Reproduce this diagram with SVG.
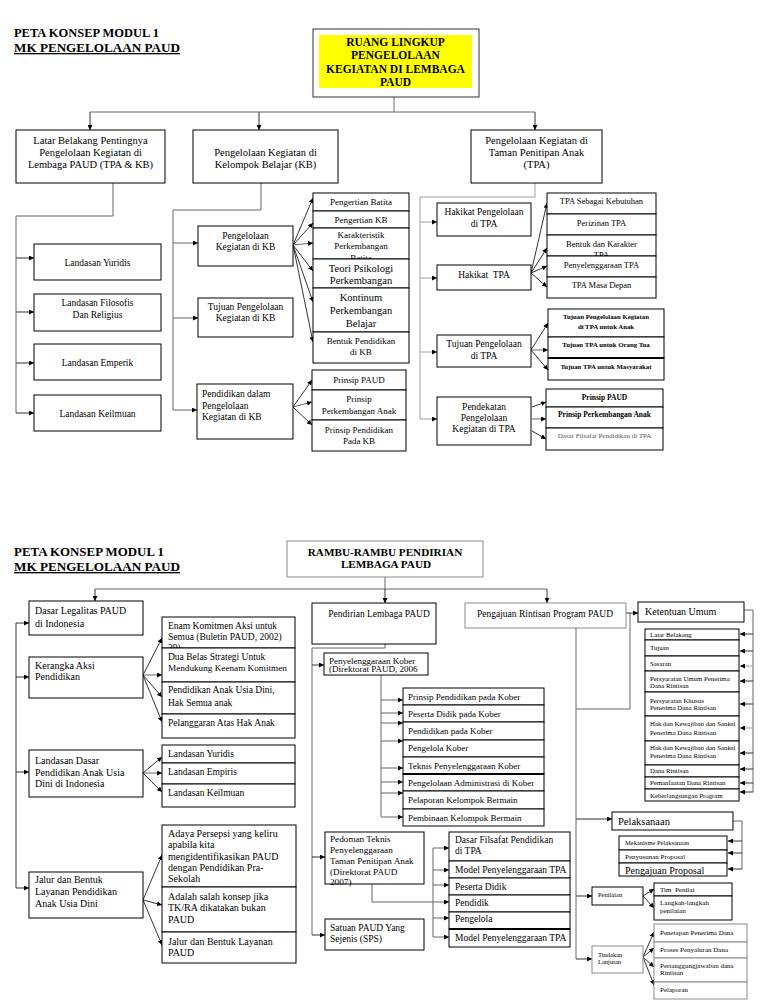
<svg xmlns="http://www.w3.org/2000/svg" width="768" height="1002" viewBox="0 0 768 1002">
<defs>
<marker id="ah" markerWidth="5" markerHeight="5" refX="5" refY="2.5" orient="auto" markerUnits="userSpaceOnUse"><path d="M0,0 L5,2.5 L0,5 z" fill="#000"/></marker>
</defs>
<style>
text{font-family:"Liberation Serif","Times New Roman",serif;fill:#000}
.b{fill:#fff;stroke:#000;stroke-width:1}
.bg{fill:#fff;stroke:#8a8a8a;stroke-width:1}
.c{text-anchor:middle}
.h{font-weight:bold}
.ln{fill:none;stroke:#333;stroke-width:1}
.lm{fill:none;stroke:#666;stroke-width:1}
.lg{fill:none;stroke:#a0a0a0;stroke-width:1}
.a{marker-end:url(#ah)}
.dbl{stroke:#000;stroke-width:2}
</style>
<rect width="768" height="1002" fill="#fff"/>

<!-- ============ CONNECTORS ============ -->
<g id="connectors">
<!-- top -->
<path class="lm" d="M394,97V112M90,112H535"/>
<path class="ln a" d="M90,112V130"/>
<path class="ln a" d="M259,112V130"/>
<path class="ln a" d="M535,112V130"/>
<path class="lm" d="M113,183V216H16V413"/>
<path class="ln a" d="M16,258H34"/>
<path class="ln a" d="M16,312H34"/>
<path class="ln a" d="M16,363H34"/>
<path class="ln a" d="M16,413H34"/>
<path class="lm" d="M261,183V210H173V410"/>
<path class="lm a" d="M173,243H198"/>
<path class="lm a" d="M173,318H198"/>
<path class="lm a" d="M173,410H197"/>
<path class="ln a" d="M293,245L313,198"/>
<path class="ln a" d="M293,245L313,223"/>
<path class="lm a" d="M293,245L313,243"/>
<path class="ln a" d="M293,245L313,271"/>
<path class="ln a" d="M293,245L313,302"/>
<path class="ln a" d="M293,245L313,342"/>
<path class="ln a" d="M293,407L312,380"/>
<path class="lm a" d="M293,407L312,402"/>
<path class="ln a" d="M293,407L312,425"/>
<path class="lg" d="M535,183V197H420V419"/>
<path class="lg a" d="M420,222H437"/>
<path class="lg a" d="M420,278H437"/>
<path class="lg a" d="M420,352H437"/>
<path class="lg a" d="M420,419H437"/>
<path class="ln a" d="M531,273L547,203"/>
<path class="ln a" d="M531,273L547,248"/>
<path class="ln a" d="M531,273L547,266"/>
<path class="ln a" d="M531,273L547,287"/>
<path class="ln a" d="M531,350L548,323"/>
<path class="lm a" d="M531,350L548,350"/>
<path class="ln a" d="M531,350L548,370"/>
<path class="ln a" d="M532,407L546,402"/>
<path class="lm a" d="M532,419H546"/>
<path class="ln a" d="M532,431L546,439"/>

<!-- bottom -->
<path class="lm" d="M385,577V589M95,589H547"/>
<path class="ln a" d="M95,589V601"/>
<path class="ln a" d="M385,589V603"/>
<path class="ln a" d="M547,589V603"/>
<path class="ln" d="M16,623V888"/>
<path class="ln a" d="M16,623H29"/>
<path class="ln a" d="M16,677H29"/>
<path class="ln a" d="M16,772H29"/>
<path class="ln a" d="M16,888H29"/>
<path class="ln a" d="M143,675L162,638"/>
<path class="lm a" d="M143,675L162,675"/>
<path class="ln a" d="M143,675L162,697"/>
<path class="ln a" d="M143,675L162,722"/>
<path class="ln a" d="M143,773L162,757"/>
<path class="lm a" d="M143,773L162,773"/>
<path class="ln a" d="M143,773L162,792"/>
<path class="ln a" d="M143,900L162,855"/>
<path class="ln a" d="M143,900L162,905"/>
<path class="ln a" d="M143,900L162,945"/>

<path class="lm" d="M385,644V648H312V935"/>
<path class="ln a" d="M312,665H324"/>
<path class="ln a" d="M312,857H325"/>
<path class="ln a" d="M312,935H325"/>
<path class="lm" d="M381,675V817"/>
<path class="lm a" d="M381,700H403"/>
<path class="lm a" d="M381,713H403"/>
<path class="lm a" d="M381,723H403"/>
<path class="lm a" d="M381,741H403"/>
<path class="lm a" d="M381,768H403"/>
<path class="lm a" d="M381,782H403"/>
<path class="lm a" d="M381,793H403"/>
<path class="lm a" d="M381,817H403"/>
<path class="lm a" d="M372,884V902H449"/>
<path class="lm" d="M433,848V937"/>
<path class="lm a" d="M433,848H449"/>
<path class="lm a" d="M433,870H449"/>
<path class="lm a" d="M433,885H449"/>
<path class="lm a" d="M433,918H449"/>
<path class="lm a" d="M433,937H449"/>

<path class="lm" d="M576,628V959"/>
<path class="lm" d="M630,613V709H576"/>
<path class="ln a" d="M626,613H638"/>
<path class="ln a" d="M576,819H612"/>
<path class="ln a" d="M576,896H592"/>
<path class="ln a" d="M576,959H592"/>
<path class="lm" d="M744,610H753V792"/>
<path class="ln a" d="M753,634H740"/>
<path class="ln a" d="M753,651H740"/>
<path class="lg a" d="M753,666H740"/>
<path class="ln a" d="M753,681H740"/>
<path class="ln a" d="M753,704H740"/>
<path class="lg a" d="M753,728H740"/>
<path class="ln a" d="M753,753H740"/>
<path class="ln a" d="M753,769H740"/>
<path class="ln a" d="M753,783H740"/>
<path class="ln a" d="M753,792H740"/>
<path class="lm" d="M733,821H742V869"/>
<path class="ln a" d="M742,841H728"/>
<path class="ln a" d="M742,853H728"/>
<path class="ln a" d="M742,869H728"/>
<path class="ln a" d="M643,896L654,889"/>
<path class="ln a" d="M643,896L654,908"/>
<path class="ln a" d="M643,957L654,932"/>
<path class="ln a" d="M643,957L654,948"/>
<path class="ln a" d="M643,957L654,967"/>
<path class="ln a" d="M643,957L654,985"/>
</g>

<!-- ============ TOP SECTION ============ -->
<g id="title-top" class="h">
<text x="14" y="37" font-size="13" textLength="145" lengthAdjust="spacingAndGlyphs">PETA KONSEP MODUL 1</text>
<text x="14" y="52" font-size="13" textLength="166" lengthAdjust="spacingAndGlyphs" text-decoration="underline">MK PENGELOLAAN PAUD</text>
</g>

<g id="ruang">
<rect x="313" y="29" width="166" height="68" fill="#fff" stroke="#333"/>
<rect x="319" y="35" width="153" height="53" fill="#ffff00"/>
<g class="c h" font-size="11.5">
<text x="395.5" y="46">RUANG LINGKUP</text>
<text x="395.5" y="59">PENGELOLAAN</text>
<text x="395.5" y="72.5">KEGIATAN DI LEMBAGA</text>
<text x="395.5" y="86">PAUD</text>
</g>
</g>

<g id="latar" font-size="10.5" class="c">
<rect x="16" y="130" width="149" height="53" class="b"/>
<text x="90.5" y="144">Latar Belakang Pentingnya</text>
<text x="90.5" y="156">Pengelolaan Kegiatan di</text>
<text x="90.5" y="167.5">Lembaga PAUD (TPA &amp; KB)</text>
</g>
<g id="kb" font-size="10.5" class="c">
<rect x="193" y="130" width="145" height="53" class="b"/>
<text x="265.5" y="156">Pengelolaan Kegiatan di</text>
<text x="265.5" y="167.5">Kelompok Belajar (KB)</text>
</g>
<g id="tpa" font-size="10.5" class="c">
<rect x="471" y="130" width="131" height="53" class="b"/>
<text x="536.5" y="144">Pengelolaan Kegiatan di</text>
<text x="536.5" y="156">Taman Penitipan Anak</text>
<text x="536.5" y="168">(TPA)</text>
</g>

<g id="landasan-yuridis" font-size="9.5" class="c"><rect x="34" y="244" width="127" height="36" class="b"/><text x="97.5" y="265.5">Landasan Yuridis</text></g>
<g id="landasan-filosofis" font-size="9.5" class="c"><rect x="34" y="294" width="127" height="37" class="b"/><text x="97.5" y="306">Landasan Filosofis</text><text x="97.5" y="317.5">Dan Religius</text></g>
<g id="landasan-emperik" font-size="9.5" class="c"><rect x="34" y="344" width="127" height="36" class="b"/><text x="97.5" y="365.5">Landasan Emperik</text></g>
<g id="landasan-keilmuan" font-size="9.5" class="c"><rect x="34" y="395" width="127" height="36" class="b"/><text x="97.5" y="416.5">Landasan Keilmuan</text></g>

<g id="pengelolaan-kb" font-size="9.5" class="c"><rect x="198" y="226" width="95" height="40" class="b"/><text x="245.5" y="238.5">Pengelolaan</text><text x="245.5" y="250">Kegiatan di KB</text></g>
<g id="tujuan-kb" font-size="9.5" class="c"><rect x="198" y="298" width="95" height="39" class="b"/><text x="245.5" y="310">Tujuan Pengelolaan</text><text x="245.5" y="320.5">Kegiatan di KB</text></g>
<g id="pendidikan-kb" font-size="9.5"><rect x="197" y="384" width="96" height="55" class="b"/><text x="202" y="396.5">Pendidikan dalam</text><text x="202" y="408.5">Pengelolaan</text><text x="202" y="420">Kegiatan di KB</text></g>

<g id="kb-stack" font-size="9" class="c">
<rect x="313" y="193" width="96" height="18" class="b"/><text x="361" y="205">Pengertian Batita</text>
<rect x="313" y="211" width="96" height="17" class="b"/><text x="361" y="222.5">Pengertian KB</text>
<rect x="313" y="228" width="96" height="31" class="b"/><text x="361" y="238">Karakteristik</text><text x="361" y="249">Perkembangan</text><text x="361" y="261">Batita</text>
<rect x="313" y="259" width="96" height="29" class="b"/><text x="361" y="272" font-size="10.5">Teori Psikologi</text><text x="361" y="284" font-size="10.5">Perkembangan</text>
<rect x="313" y="288" width="96" height="44" class="b"/><text x="361" y="301" font-size="10.5">Kontinum</text><text x="361" y="314" font-size="10.5">Perkembangan</text><text x="361" y="326.5" font-size="10.5">Belajar</text>
<rect x="313" y="332" width="96" height="31" class="b"/><text x="361" y="344">Bentuk Pendidikan</text><text x="361" y="355">di KB</text>
</g>

<g id="prinsip-stack" font-size="9" class="c">
<rect x="312" y="370" width="94" height="20" class="b"/><text x="359" y="382.5">Prinsip PAUD</text>
<rect x="312" y="390" width="94" height="30" class="b"/><text x="359" y="401.5">Prinsip</text><text x="359" y="413.5">Perkembangan Anak</text>
<rect x="312" y="420" width="94" height="31" class="b"/><text x="359" y="432.5">Prinsip Pendidikan</text><text x="359" y="444">Pada KB</text>
</g>

<g id="hakikat-pengelolaan-tpa" font-size="9.5" class="c"><rect x="437" y="203" width="94" height="33" class="b"/><text x="484" y="215">Hakikat Pengelolaan</text><text x="484" y="226.5">di TPA</text></g>
<g id="hakikat-tpa" font-size="9.5" class="c"><rect x="437" y="265" width="94" height="25" class="b"/><text x="484" y="277.5" xml:space="preserve">Hakikat  TPA</text></g>
<g id="tujuan-tpa" font-size="9.5" class="c"><rect x="437" y="335" width="94" height="32" class="b"/><text x="484" y="347">Tujuan Pengelolaan</text><text x="484" y="359">di TPA</text></g>
<g id="pendekatan-tpa" font-size="9.5" class="c"><rect x="437" y="397" width="94" height="48" class="b"/><text x="484" y="409.5">Pendekatan</text><text x="484" y="420.5">Pengelolaan</text><text x="484" y="431.5">Kegiatan di TPA</text></g>

<g id="hakikat-stack" font-size="8.5" class="c">
<rect x="547" y="193" width="109" height="21" class="b"/><text x="601.5" y="204">TPA Sebagai Kebutuhan</text>
<rect x="547" y="214" width="109" height="21" class="b"/><text x="601.5" y="226">Perizinan TPA</text>
<rect x="547" y="235" width="109" height="21" class="b"/><text x="601.5" y="246.5">Bentuk dan Karakter</text><text x="601.5" y="258">TPA</text>
<rect x="547" y="256" width="109" height="21" class="b"/><text x="601.5" y="267.5">Penyelenggaraan TPA</text>
<rect x="547" y="277" width="109" height="21" class="b"/><text x="601.5" y="287.5">TPA Masa Depan</text>
</g>

<g id="tujuan-stack" font-size="6.8" class="c h">
<rect x="548" y="309" width="116" height="28" class="b"/><text x="606" y="319">Tujuan Pengelolaan Kegiatan</text><text x="606" y="328.5">di TPA untuk Anak</text>
<rect x="548" y="337" width="116" height="21" class="b"/><text x="606" y="346.5">Tujuan TPA untuk Orang Tua</text>
<rect x="548" y="358" width="116" height="22" class="b"/><line x1="548" y1="358" x2="664" y2="358" class="dbl"/><text x="606" y="368.5">Tujuan TPA untuk Masyarakat</text>
</g>

<g id="pendekatan-stack" class="c">
<rect x="546" y="389" width="117" height="18" class="b"/><text x="604.5" y="399.5" font-size="7.5" class="h">Prinsip PAUD</text>
<rect x="546" y="407" width="117" height="21" class="b"/><text x="604.5" y="417" font-size="7.5" class="h">Prinsip Perkembangan Anak</text>
<rect x="546" y="428" width="117" height="22" class="b"/><text x="604.5" y="438" font-size="7" style="fill:#555">Dasar Filsafat Pendidikan di TPA</text>
</g>

<!-- ============ BOTTOM SECTION ============ -->
<g id="title-bottom" class="h">
<text x="14" y="556" font-size="13.5" textLength="150" lengthAdjust="spacingAndGlyphs">PETA KONSEP MODUL 1</text>
<text x="14" y="571" font-size="13.5" textLength="166" lengthAdjust="spacingAndGlyphs" text-decoration="underline">MK PENGELOLAAN PAUD</text>
</g>

<g id="rambu" class="c h" font-size="11.2">
<rect x="287" y="541" width="196" height="36" class="bg"/>
<text x="385" y="556">RAMBU-RAMBU PENDIRIAN</text>
<text x="386" y="568">LEMBAGA PAUD</text>
</g>

<g id="dasar-legalitas" font-size="10"><rect x="29" y="601" width="114" height="34" class="b"/><text x="35" y="614">Dasar Legalitas PAUD</text><text x="35" y="627">di Indonesia</text></g>
<g id="kerangka-aksi" font-size="10"><rect x="29" y="657" width="114" height="41" class="b"/><text x="35" y="669">Kerangka Aksi</text><text x="35" y="680">Pendidikan</text></g>
<g id="landasan-dasar" font-size="10"><rect x="29" y="750" width="114" height="47" class="b"/><text x="35" y="764">Landasan Dasar</text><text x="35" y="776">Pendidikan Anak Usia</text><text x="35" y="787">Dini di Indonesia</text></g>
<g id="jalur-bentuk" font-size="10"><rect x="29" y="872" width="114" height="46" class="b"/><text x="35" y="882.5">Jalur dan Bentuk</text><text x="35" y="895">Layanan Pendidikan</text><text x="35" y="906.5">Anak Usia Dini</text></g>

<g id="kerangka-stack" font-size="9.5">
<rect x="162" y="617" width="133" height="31" class="b"/><text x="168" y="629">Enam Komitmen Aksi untuk</text><text x="168" y="640">Semua (Buletin PAUD, 2002)</text><text x="168" y="651">39)</text>
<rect x="162" y="648" width="133" height="34" class="b"/><text x="168" y="659.5">Dua Belas Strategi Untuk</text><text x="168" y="670.5" font-size="9.2">Mendukung Keenam Komitmen</text>
<rect x="162" y="682" width="133" height="32" class="b"/><text x="168" y="692.5">Pendidikan Anak Usia Dini,</text><text x="168" y="706">Hak Semua anak</text>
<rect x="162" y="714" width="133" height="24" class="b"/><text x="168" y="726">Pelanggaran Atas Hak Anak</text>
</g>

<g id="landasan-stack" font-size="9.5">
<rect x="162" y="745" width="133" height="18" class="b"/><text x="168" y="756.5">Landasan Yuridis</text>
<rect x="162" y="763" width="133" height="21" class="b"/><text x="168" y="775">Landasan Empiris</text>
<rect x="162" y="784" width="133" height="23" class="b"/><text x="168" y="796">Landasan Keilmuan</text>
</g>

<g id="jalur-stack" font-size="10">
<rect x="162" y="825" width="134" height="62" class="b"/>
<text x="168" y="836.5">Adaya Persepsi yang keliru</text><text x="168" y="848">apabila kita</text><text x="168" y="859.5">mengidentifikasikan PAUD</text><text x="168" y="871">dengan Pendidikan Pra-</text><text x="168" y="882">Sekolah</text>
<rect x="162" y="887" width="134" height="45" class="b"/>
<text x="168" y="899.5">Adalah salah konsep jika</text><text x="168" y="911">TK/RA dikatakan bukan</text><text x="168" y="922.5">PAUD</text>
<rect x="162" y="932" width="134" height="31" class="b"/>
<text x="168" y="944.5">Jalur dan Bentuk Layanan</text><text x="168" y="956">PAUD</text>
</g>

<g id="pendirian" font-size="9.5" class="c"><rect x="312" y="603" width="124" height="41" class="b"/><text x="379" y="617">Pendirian Lembaga PAUD</text></g>
<g id="pengajuan" font-size="9.5" class="c"><rect x="465" y="603" width="161" height="25" class="bg"/><text x="545" y="617">Pengajuan Rintisan Program PAUD</text></g>

<g id="penyelenggaraan-kober" font-size="9"><rect x="324" y="653" width="104" height="22" class="b"/><text x="329" y="663.5">Penyelenggaraan Kober</text><text x="329" y="672">(Direktorat PAUD, 2006</text></g>

<g id="kober-stack" font-size="9">
<rect x="403" y="688" width="141" height="17" class="b"/><text x="408" y="699.5">Prinsip Pendidikan pada Kober</text>
<rect x="403" y="705" width="141" height="17" class="b"/><text x="408" y="716.5">Peserta Didik pada Kober</text>
<rect x="403" y="722" width="141" height="18" class="b"/><text x="408" y="734">Pendidikan pada Kober</text>
<rect x="403" y="740" width="141" height="17" class="b"/><text x="408" y="751">Pengelola Kober</text>
<rect x="403" y="757" width="141" height="17" class="b"/><text x="408" y="768.5">Teknis Penyelenggaraan Kober</text>
<rect x="403" y="774" width="141" height="17" class="b"/><line x1="403" y1="774" x2="544" y2="774" class="dbl"/><text x="408" y="785.5">Pengelolaan Administrasi di Kober</text>
<rect x="403" y="791" width="141" height="18" class="b"/><text x="408" y="803">Pelaporan Kelompok Bermain</text>
<rect x="403" y="809" width="141" height="17" class="b"/><text x="408" y="820.5">Pembinaan Kelompok Bermain</text>
</g>

<g id="pedoman-tpa" font-size="9.2"><rect x="325" y="832" width="99" height="52" class="b"/><text x="330" y="842">Pedoman Teknis</text><text x="330" y="853">Penyelenggaraan</text><text x="330" y="864">Taman Penitipan Anak</text><text x="330" y="874.5">(Direktorat PAUD</text><text x="330" y="885">2007)</text></g>
<g id="satuan-paud" font-size="9.5"><rect x="325" y="919" width="99" height="31" class="b"/><text x="330" y="930.5">Satuan PAUD Yang</text><text x="330" y="942">Sejenis (SPS)</text></g>

<g id="tpa-stack" font-size="9.5">
<rect x="449" y="832" width="121" height="29" class="b"/><text x="455" y="842.5">Dasar Filsafat Pendidikan</text><text x="455" y="853.5">di TPA</text>
<rect x="449" y="861" width="121" height="17" class="b"/><text x="455" y="873">Model Penyelenggaraan TPA</text>
<rect x="449" y="878" width="121" height="17" class="b"/><text x="455" y="889.5">Peserta Didik</text>
<rect x="449" y="895" width="121" height="17" class="b"/><text x="455" y="906">Pendidik</text>
<rect x="449" y="912" width="121" height="17" class="b"/><text x="455" y="921.5">Pengelola</text>
<rect x="449" y="929" width="121" height="18" class="b"/><line x1="449" y1="929" x2="570" y2="929" class="dbl"/><text x="455" y="940.5">Model Penyelenggaraan TPA</text>
</g>

<g id="ketentuan-umum" font-size="10"><rect x="638" y="602" width="106" height="20" class="b"/><text x="645" y="614.5">Ketentuan Umum</text></g>

<g id="ketentuan-stack" font-size="6.8">
<rect x="645" y="629" width="94" height="11" class="b"/><text x="650" y="636.5">Latar Belakang</text>
<rect x="645" y="640" width="94" height="16" class="b"/><text x="650" y="650">Tujuan</text>
<rect x="645" y="656" width="94" height="15" class="b"/><text x="650" y="666">Sasaran</text>
<rect x="645" y="671" width="94" height="21" class="b"/><text x="650" y="680.5">Persyaratan Umum Penerima</text><text x="650" y="688">Dana Rintisan</text>
<rect x="645" y="692" width="94" height="24" class="b"/><text x="650" y="702.5">Persyaratan Khusus</text><text x="650" y="710">Penerima Dana Rintisan</text>
<rect x="645" y="716" width="94" height="25" class="b"/><text x="650" y="726">Hak dan Kewajiban dan Sanksi</text><text x="650" y="734.5">Penerima Dana Rintisan</text>
<rect x="645" y="741" width="94" height="24" class="b"/><text x="650" y="749.5">Hak dan Kewajiban dan Sanksi</text><text x="650" y="757.5">Penerima Dana Rintisan</text>
<rect x="645" y="765" width="94" height="12" class="b"/><text x="650" y="772.5">Dana Rintisan</text>
<rect x="645" y="777" width="94" height="12" class="b"/><text x="650" y="785">Pemanfaatan Dana Rintisan</text>
<rect x="645" y="789" width="94" height="12" class="b"/><text x="650" y="797.5">Keberlangsungan Program</text>
</g>

<g id="pelaksanaan" font-size="10.5"><rect x="612" y="812" width="121" height="18" class="b"/><text x="618" y="825">Pelaksanaan</text></g>
<g id="pelaksanaan-stack">
<rect x="619" y="836" width="108" height="14" class="b"/><text x="625" y="845" font-size="6.5">Mekanisme Pelaksanaan</text>
<rect x="619" y="850" width="108" height="13" class="b"/><text x="625" y="859" font-size="7">Penyusunan Proposal</text>
<rect x="619" y="863" width="108" height="13" class="b"/><text x="625" y="874" font-size="10">Pengajuan Proposal</text>
</g>

<g id="penilaian" font-size="6.5"><rect x="592" y="887" width="51" height="18" class="b"/><text x="598" y="896.5">Penilaian</text></g>
<g id="penilaian-stack" font-size="7">
<rect x="654" y="883" width="78" height="13" class="b"/><text x="660" y="892" xml:space="preserve">Tim  Penilai</text>
<rect x="654" y="896" width="78" height="24" class="b"/><text x="660" y="905">Langkah-langkah</text><text x="660" y="912.5">penilaian</text>
</g>

<g id="tindakan-lanjutan" font-size="6.5"><rect x="592" y="946" width="51" height="27" class="bg"/><text x="598" y="956.5">Tindakan</text><text x="598" y="964">Lanjutan</text></g>
<g id="tindakan-stack" font-size="7">
<rect x="654" y="924" width="93" height="18" class="bg"/><text x="660" y="935">Penetapan Penerima Dana</text>
<rect x="654" y="942" width="93" height="16" class="bg"/><text x="660" y="952">Proses Penyaluran Dana</text>
<rect x="654" y="958" width="93" height="24" class="bg"/><text x="660" y="967.5">Pertanggungjawaban dana</text><text x="660" y="975">Rintisan</text>
<rect x="654" y="982" width="93" height="17" class="bg"/><text x="660" y="992">Pelaporan</text>
</g>
</svg>
